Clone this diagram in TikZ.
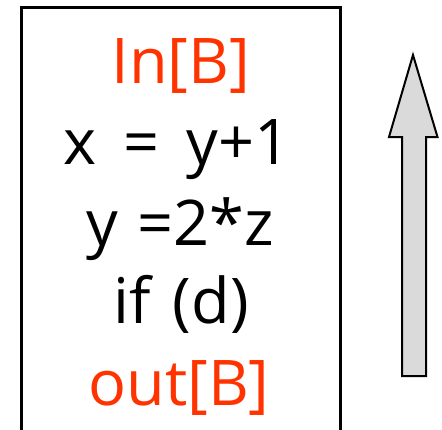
\documentclass[tikz,border=0pt]{standalone}
\usepackage{fontspec}
\setmainfont{Open Sans}
\definecolor{flowred}{RGB}{255,51,0}
\definecolor{arrowgray}{RGB}{218,218,218}
\begin{document}
\begin{tikzpicture}[x=1pt,y=-1pt,
  codeline/.style={anchor=base,inner sep=0pt,font=\fontsize{63}{70}\selectfont},
  setlabel/.style={codeline,text=flowred},
  blockframe/.style={draw=black,line width=3pt},
  flowarrow/.style={draw=black,line width=2pt,fill=arrowgray,line join=miter}]
\useasboundingbox (0,0) rectangle (442,429);
\draw[blockframe] (21.5,440) -- (21.5,7.5) -- (340.5,7.5) -- (340.5,440);
\node[setlabel] (inb) at (181,83) {In[B]};
\node[codeline] (l1) at (177,164) {x\,\ =\ \,y+1};
\node[codeline] (l2) at (180,245) {y\hspace{0.3em}=2*z};
\node[codeline] (l3) at (181,323) {if\hspace{0.35em}(d)};
\node[setlabel] (outb) at (179,405) {out[B]};
\draw[flowarrow] (413,55) -- (437.5,137) -- (426,137) -- (426,376) -- (402,376) -- (402,137) -- (389,137) -- cycle;
\end{tikzpicture}
\end{document}
